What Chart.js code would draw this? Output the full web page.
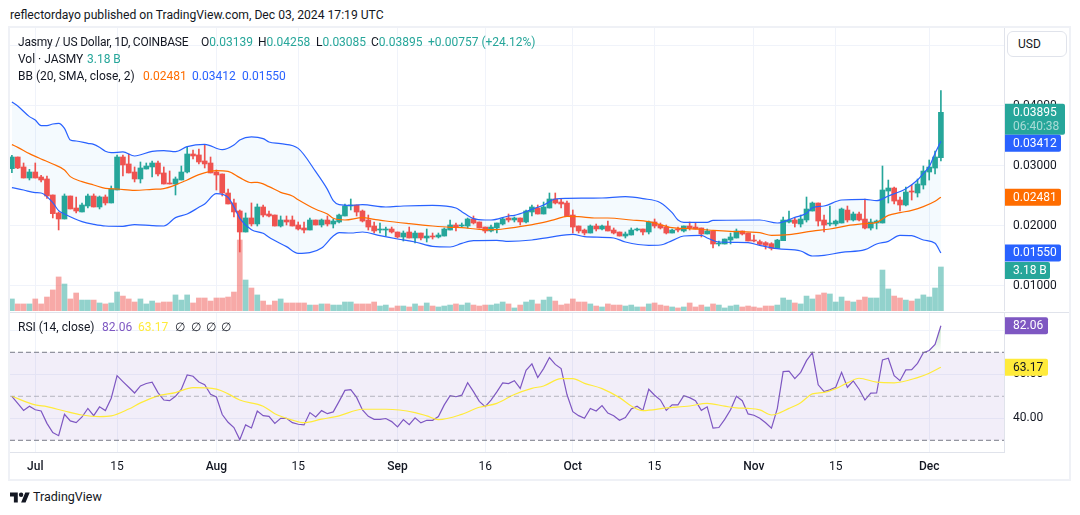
<!DOCTYPE html>
<html lang="en">
<head>
<meta charset="UTF-8">
<title>Jasmy / US Dollar, 1D</title>
<script src="https://cdn.jsdelivr.net/npm/chart.js"></script>
<style>
  body { margin: 0; background: #fff; font-family: Roboto, sans-serif; font-size: 12px; color: #131722; overflow: hidden; }
  #page { position: relative; width: 1080px; height: 515px; }
  canvas { position: absolute; }
  .txt { position: absolute; white-space: pre; line-height: 16px; }
  .up { color: #26a69a; } .orange { color: #ff6d00; } .blue { color: #2962ff; }
  .purple { color: #7e57c2; } .yellow { color: #ffeb3b; }
  #frame { position: absolute; left: 8px; top: 26px; width: 1063px; height: 455px; box-sizing: border-box; border: 2px solid #eff1f6; }
  #sep { position: absolute; left: 10px; top: 312px; width: 1059px; height: 1px; background: #e0e3eb; }
  #usd { position: absolute; left: 1007px; top: 31px; width: 60px; height: 26px; box-sizing: border-box; border: 1px solid #e0e3eb; border-radius: 6px; background: #fff; line-height: 24px; padding-left: 10px; }
</style>
</head>
<body>
<div id="page">
  <div class="txt" style="left:10px;top:7px;font-size:12.15px">reflectordayo published on TradingView.com, Dec 03, 2024 17:19 UTC</div>
  <div id="frame"></div>
  <canvas id="priceChart" width="1059" height="283" style="left:10px;top:28px"></canvas>
  <div id="sep"></div>
  <canvas id="rsiChart" width="1059" height="166" style="left:10px;top:313px"></canvas>
  <div id="usd">USD</div>

  <div class="txt" style="left:18px;top:34px;letter-spacing:-.2px">Jasmy / US Dollar, 1D, COINBASE</div>
  <div class="txt" style="left:201px;top:34px">O<span class="up">0.03139</span></div>
  <div class="txt" style="left:258px;top:34px">H<span class="up">0.04258</span></div>
  <div class="txt" style="left:316px;top:34px">L<span class="up">0.03085</span></div>
  <div class="txt" style="left:371px;top:34px">C<span class="up">0.03895</span></div>
  <div class="txt up" style="left:428px;top:34px">+0.00757 (+24.12%)</div>
  <div class="txt" style="left:18px;top:51px">Vol · JASMY</div>
  <div class="txt up" style="left:87px;top:51px">3.18 B</div>
  <div class="txt" style="left:18px;top:68px">BB (20, SMA, close, 2)</div>
  <div class="txt orange" style="left:143px;top:68px">0.02481</div>
  <div class="txt blue" style="left:192px;top:68px">0.03412</div>
  <div class="txt blue" style="left:242px;top:68px">0.01550</div>
  <div class="txt" style="left:18px;top:319px">RSI (14, close)</div>
  <div class="txt purple" style="left:102px;top:319px">82.06</div>
  <div class="txt yellow" style="left:138px;top:319px">63.17</div>
  <div class="txt" style="left:175px;top:319px">∅</div>
  <div class="txt" style="left:191px;top:319px">∅</div>
  <div class="txt" style="left:206px;top:319px">∅</div>
  <div class="txt" style="left:221px;top:319px">∅</div>

  <svg style="position:absolute;left:10px;top:491px" width="20" height="13" viewBox="0 3 36 20"><path fill="#131722" d="M14 22H7V11H0V4h14v18zM28 22h-8l7.5-18h8L28 22z"/><circle fill="#131722" cx="20" cy="8" r="4"/></svg>
  <div class="txt" style="left:33px;top:489px;font-size:12.5px">TradingView</div>
</div>

<script>
  // daily candles, Jun 27 (day 0) to Dec 03 (day 159)
  const opens = [
    .02956,.03150,.02984,.02800,.02900,.02817,.02784,.02517,.02217,.02117,
    .02500,.02300,.02234,.02334,.02500,.02317,.02484,.02384,.02600,.03150,
    .03034,.02900,.02784,.02950,.02984,.03050,.02884,.02717,.02700,.02767,
    .02900,.03200,.03184,.03084,.03050,.02900,.02867,.02550,.02384,.02250,
    .01900,.02134,.02034,.02317,.02200,.02183,.02000,.02100,.02100,.02017,
    .01967,.01933,.02100,.02017,.02100,.02033,.02067,.02167,.02333,.02350,
    .02250,.02100,.02000,.01933,.01933,.01950,.01900,.01817,.01900,.01800,
    .01883,.01800,.01833,.01817,.01833,.01933,.02017,.02000,.02000,.02117,
    .02067,.01983,.01917,.01967,.02033,.02133,.02100,.02133,.02067,.02233,
    .02300,.02200,.02300,.02450,.02400,.02383,.02183,.02000,.01933,.01883,
    .02000,.01950,.02000,.01933,.01900,.01833,.01850,.01933,.01950,.01900,
    .02067,.02017,.01983,.01883,.01950,.01917,.02000,.01983,.01967,.01867,
    .01917,.01700,.01700,.01767,.01800,.01917,.01883,.01767,.01739,.01722,
    .01705,.01627,.01755,.02066,.02100,.02033,.02100,.02250,.02383,.02100,
    .02033,.02033,.02050,.02266,.02100,.02200,.02116,.01966,.02050,.02050,
    .02583,.02633,.02433,.02350,.02583,.02550,.02683,.02900,.02966,.03139
  ]
  const highs = [
    .03178,.03150,.03050,.02945,.03050,.02845,.02834,.02517,.02234,.02534,
    .02500,.02484,.02384,.02534,.02534,.02500,.02517,.02667,.03184,.03184,
    .03200,.02984,.03067,.03050,.03084,.03084,.02984,.02917,.02817,.03000,
    .03317,.03267,.03284,.03350,.03150,.02934,.02867,.02617,.02450,.02267,
    .02217,.02384,.02367,.02350,.02250,.02183,.02167,.02167,.02167,.02067,
    .02067,.02133,.02100,.02117,.02167,.02117,.02200,.02367,.02450,.02350,
    .02267,.02183,.02067,.02050,.01983,.01983,.01900,.01917,.01983,.01917,
    .01883,.01950,.01883,.01883,.01967,.02100,.02050,.02050,.02133,.02167,
    .02067,.01983,.02017,.02050,.02133,.02200,.02150,.02133,.02267,.02350,
    .02350,.02400,.02550,.02550,.02450,.02417,.02267,.02000,.01950,.02017,
    .02033,.02017,.02083,.01967,.01900,.01900,.01967,.01967,.01950,.02083,
    .02117,.02050,.02017,.01950,.01983,.02000,.02067,.02050,.01967,.01950,
    .01917,.01750,.01783,.01883,.01950,.01917,.01883,.01850,.01766,.01739,
    .01722,.01777,.02150,.02250,.02133,.02183,.02483,.02400,.02383,.02183,
    .02333,.02100,.02300,.02333,.02233,.02233,.02450,.02116,.02100,.03000,
    .02766,.02650,.02483,.02650,.02683,.02783,.03000,.03100,.03250,.04258
  ]
  const lows = [
    .02889,.02956,.02800,.02767,.02800,.02734,.02461,.02134,.01934,.02117,
    .02284,.02217,.02234,.02300,.02317,.02284,.02350,.02384,.02600,.02834,
    .02884,.02734,.02717,.02950,.02817,.02834,.02700,.02700,.02517,.02767,
    .02884,.03117,.03034,.02967,.02884,.02600,.02500,.02367,.02150,.01567,
    .01900,.02000,.02000,.02150,.02150,.02000,.01983,.02017,.02000,.01933,
    .01883,.01933,.02017,.01983,.02000,.01967,.02050,.02167,.02267,.02167,
    .02067,.01933,.01883,.01883,.01833,.01883,.01800,.01750,.01800,.01717,
    .01767,.01733,.01783,.01800,.01833,.01933,.01917,.01983,.01967,.02033,
    .01967,.01883,.01900,.01883,.02017,.02067,.02067,.02017,.02050,.02167,
    .02200,.02200,.02300,.02367,.02300,.02156,.01883,.01883,.01850,.01883,
    .01917,.01933,.01917,.01867,.01833,.01800,.01850,.01917,.01850,.01867,
    .01967,.01950,.01867,.01883,.01900,.01900,.01933,.01950,.01817,.01867,
    .01633,.01667,.01700,.01700,.01800,.01850,.01750,.01733,.01672,.01616,
    .01600,.01627,.01755,.02050,.01983,.01983,.02066,.02250,.02000,.01900,
    .02000,.02000,.02050,.02066,.02083,.02083,.01950,.01933,.01950,.02050,
    .02383,.02366,.02250,.02333,.02433,.02483,.02616,.02766,.02866,.03085
  ]
  const closes = [
    .03150,.02967,.02800,.02900,.02800,.02767,.02500,.02206,.02117,.02500,
    .02284,.02250,.02350,.02500,.02317,.02484,.02384,.02617,.03150,.03017,
    .02884,.02784,.02967,.03000,.03050,.02867,.02700,.02700,.02784,.02900,
    .03200,.03167,.03067,.03034,.02884,.02850,.02550,.02367,.02234,.01900,
    .02134,.02034,.02317,.02183,.02167,.02000,.02100,.02067,.02000,.01950,
    .01933,.02100,.02017,.02100,.02033,.02083,.02183,.02333,.02350,.02233,
    .02083,.01983,.01917,.01950,.01950,.01900,.01817,.01883,.01800,.01883,
    .01800,.01833,.01817,.01850,.01950,.02017,.01983,.02017,.02117,.02050,
    .01967,.01917,.01983,.02050,.02117,.02100,.02133,.02067,.02250,.02317,
    .02200,.02317,.02450,.02383,.02367,.02156,.01983,.01917,.01883,.02000,
    .01950,.02000,.01917,.01883,.01833,.01867,.01933,.01950,.01900,.02067,
    .02000,.01967,.01883,.01933,.01933,.02000,.01967,.01950,.01867,.01917,
    .01700,.01717,.01783,.01817,.01917,.01867,.01750,.01750,.01694,.01677,
    .01627,.01766,.02100,.02100,.02044,.02116,.02283,.02383,.02083,.02016,
    .02050,.02083,.02283,.02100,.02200,.02100,.01966,.02066,.02083,.02600,
    .02633,.02416,.02350,.02566,.02566,.02700,.02916,.02983,.03150,.03895
  ]
  // volume in billions of JASMY
  const volumes = [
    .87,.51,.51,.51,.87,.51,1.01,1.52,2.46,1.95,
    .87,1.30,.79,.79,.79,.58,.51,.58,1.37,1.08,
    .87,.65,.87,.51,.72,.58,.65,.65,1.16,.79,
    1.16,.58,.94,.94,.72,.94,.94,1.01,1.37,5.13,
    2.24,1.66,1.16,.72,.43,.72,.87,.58,.58,.58,
    .58,.43,.43,.51,.51,.43,.43,.65,.65,.51,
    .51,.51,.65,.36,.43,.22,.36,.36,.29,.51,
    .36,.58,.36,.29,.36,.43,.51,.43,.58,.43,
    .36,.43,.43,.51,.65,.51,.22,.43,.65,.79,
    .51,.79,1.01,.72,.43,.51,.87,.65,.65,.51,
    .36,.29,.51,.43,.43,.36,.43,.29,.29,.51,
    .58,.43,.36,.29,.22,.29,.58,.29,.43,.29,
    .51,.43,.22,.36,.43,.29,.36,.29,.22,.36,
    .36,.43,.94,.79,.58,.51,1.08,.87,1.16,1.30,
    1.23,.65,1.01,.72,.65,.79,1.01,.94,.94,2.96,
    1.59,1.08,.94,.79,.72,.87,1.16,1.01,1.66,3.18
  ]

  // Bollinger bands, kept at the turning points of each curve
  const bbUpperDays = [0,1,3,4,5,6,7,8,9,10,11,13,14,15,16,17,19,21,24,26,28,30,33,36,38,39,41,43,
    44,46,49,52,54,55,56,58,60,64,67,72,76,77,79,81,82,85,
    86,89,91,93,95,101,105,108,111,113,114,115,119,120,128,
    131,134,136,137,139,142,146,148,150,153,155,156,157,158,159]
  const bbUpper = [.04067,.04000,.03823,.03767,.03673,.03673,.03700,.03711,.03628,.03434,.03417,.03378,.03361,.03311,.03245,.03223,.03234,.03167,.03245,.03256,.03239,.03323,.03361,.03273,.03350,.03434,.03484,.03456,
    .03400,.03372,.03294,.02906,.02611,.02422,.02356,.02344,.02356,.02317,.02333,.02344,.02300,.02239,.02122,.02100,.02100,.02167,
    .02178,.02278,.02350,.02450,.02461,.02467,.02489,.02456,.02389,.02222,.02100,.02061,.02061,.02094,.02100,
    .02050,.02144,.02211,.02305,.02333,.02433,.02444,.02422,.02500,.02622,.02766,.02877,.02989,.03211,.03412]
  const bbBasisDays = [0,1,3,5,7,9,10,12,14,16,18,21,24,26,28,30,32,35,37,39,41,
    42,44,46,48,49,52,54,55,57,60,62,64,68,72,75,77,80,83,
    84,88,91,93,95,97,100,102,106,109,113,116,120,123,128,
    130,133,137,140,143,146,148,150,152,154,156,158,159]
  const bbBasis = [.03356,.03311,.03206,.03117,.03034,.02934,.02823,.02739,.02684,.02628,.02617,.02595,.02611,.02623,.02684,.02767,.02856,.02923,.02911,.02806,.02723,
    .02728,.02656,.02561,.02500,.02439,.02278,.02200,.02128,.02100,.02139,.02111,.02083,.02039,.02000,.01978,.01972,.01944,.01939,
    .01950,.02006,.02061,.02111,.02161,.02156,.02133,.02133,.02100,.02072,.01972,.01956,.01928,.01911,.01889,
    .01844,.01855,.01916,.01950,.02005,.02039,.02061,.02177,.02222,.02261,.02322,.02411,.02481]
  const bbLowerDays = [0,2,4,5,7,8,9,12,14,16,19,21,24,26,28,30,32,33,35,37,38,39,41,43,
    44,47,49,51,53,55,56,58,60,63,66,69,72,75,77,79,83,85,
    89,92,96,98,103,105,109,111,113,115,118,119,121,124,126,128,
    131,135,137,139,142,146,148,150,152,154,156,158,159]
  const bbLower = [.02639,.02600,.02556,.02550,.02389,.02256,.02200,.02073,.02028,.02000,.01995,.02023,.02006,.02000,.02139,.02200,.02311,.02367,.02539,.02478,.02322,.02128,.01939,.01878,
    .01811,.01656,.01544,.01556,.01633,.01833,.01889,.01883,.01900,.01839,.01783,.01733,.01661,.01650,.01711,.01756,.01761,.01744,
    .01767,.01811,.01861,.01822,.01800,.01733,.01678,.01683,.01756,.01833,.01844,.01800,.01733,.01728,.01722,.01678,
    .01622,.01583,.01500,.01511,.01561,.01605,.01700,.01744,.01844,.01839,.01766,.01711,.01550]

  const rsi = [
    50.0,46.8,43.6,45.5,43.9,43.3,37.7,33.5,32.1,41.8,
    38.8,38.0,40.6,44.5,41.2,45.2,43.5,49.1,59.4,56.7,
    54.1,51.5,54.7,55.8,56.4,51.7,48.3,48.0,50.0,53.2,
    59.7,59.1,56.5,55.3,50.9,49.7,41.7,38.2,35.8,30.3,
    37.0,35.6,43.3,41.2,40.9,37.7,40.0,40.0,38.0,37.3,
    37.0,42.6,40.6,43.5,42.1,42.9,47.7,52.7,53.0,49.5,
    43.8,40.9,39.5,39.5,39.9,38.5,36.1,39.4,37.1,40.2,
    37.9,39.1,39.1,40.8,46.1,50.3,49.8,50.5,56.2,52.1,
    47.7,45.3,48.3,52.0,56.1,55.8,57.1,53.6,61.8,64.7,
    58.5,62.6,67.6,64.5,62.6,50.8,43.0,41.2,40.0,44.5,
    43.3,45.8,42.4,41.2,39.1,40.3,44.2,45.5,43.6,53.2,
    50.5,48.3,43.6,46.1,46.1,50.3,49.4,48.0,43.6,45.2,
    35.5,35.8,39.5,43.9,50.0,48.0,42.0,41.4,40.0,38.0,
    35.5,44.4,61.2,61.4,58.0,60.9,66.2,69.8,55.2,52.1,
    52.9,54.1,60.9,54.1,57.0,53.2,48.3,51.4,51.5,66.5,
    67.3,59.4,57.1,62.0,62.1,65.0,69.8,70.8,73.6,82.06
  ]
  const rsiMaDays = [0,4,6,9,12,15,17,20,22,25,28,31,35,37,39,43,45,48,50,53,56,60,
    64,69,71,73,77,80,83,86,89,91,94,96,98,101,104,106,108,112,116,119,
    122,124,126,128,130,133,135,137,139,141,143,145,148,151,155,157,159]
  const rsiMa = [50.0,46.1,45.3,43.3,41.5,40.8,41.1,44.2,47.0,50.2,51.7,53.9,53.3,51.1,48.3,45.5,42.1,39.2,38.0,39.6,41.1,44.1,
    44.1,42.6,41.1,39.4,41.8,45.0,46.8,50.8,53.6,54.7,58.0,58.0,55.9,53.5,49.4,45.6,43.5,44.7,45.6,46.8,
    45.5,44.7,44.5,43.8,41.5,44.5,47.1,51.1,51.8,53.5,56.1,58.2,56.4,56.1,58.5,60.5,63.17]

  const priceTicks = [.01,.02,.03,.04,.05]
  const rsiTicks = [40,60,80]
  const rsiLevels = [70,50,30]
  const tickDays = [4,18,35,49,66,81,96,110,127,141,157]
  const tickLabels = ['Jul','15','Aug','15','Sep','16','Oct','15','Nov','15','Dec']

  const UP = '#26a69a', DOWN = '#ef5350'
  const GRID = '#f0f3fa', AXIS = '#e0e3eb', TEXT = '#131722'
  const FONT = 'Roboto, sans-serif'
  const dirColor = (i, up, down) => closes[i] >= opens[i] ? up : down
  const days = opens.map((_, i) => i)
  const pts = (xs, ys) => xs.map((x, i) => ({x: x, y: ys[i]}))

  const xAxis = {
    type: 'linear', min: -0.325, max: 169.8, offset: false,
    grid: {color: GRID, offset: false, drawTicks: false},
    border: {display: false},
    afterBuildTicks: s => { s.ticks = tickDays.map(v => ({value: v})) },
    ticks: {display: false}
  }
  // the pane runs edge to edge, so the tick labels must not pad the scale
  const yAxisBase = (values) => ({
    position: 'right',
    grid: {color: GRID, drawTicks: false},
    border: {color: AXIS},
    afterBuildTicks: s => { s.ticks = values.map(v => ({value: v})) },
    afterFit: s => {
      s.width = 65
      s.paddingTop = s.paddingBottom = 0
      s._margins.top = s._margins.bottom = 0
    }
  })

  // coloured value tags sitting on the right axis
  const tagPlugin = {
    id: 'tags',
    afterDraw(chart, args, opts) {
      const c = chart.ctx
      opts.items.forEach(t => {
        const y = chart.scales[t.axis].getPixelForValue(t.value) + (t.dy || 0)
        const x = chart.chartArea.right + 1
        const h = t.lines.length > 1 ? 31 : 17
        const top = t.lines.length > 1 ? y - 8.5 : y - h / 2
        c.save()
        c.fillStyle = t.bg
        c.beginPath()
        c.roundRect(x, top, t.w, h, [0, 2, 2, 0])
        c.fill()
        c.font = '12px ' + FONT
        c.textBaseline = 'middle'
        c.fillStyle = t.color
        c.fillText(t.lines[0], x + 8, top + 9)
        if (t.lines[1]) {
          c.globalAlpha = 0.6
          c.fillText(t.lines[1], x + 8, top + 23)
        }
        c.restore()
      })
    }
  }

  new Chart(document.getElementById('priceChart'), {
    type: 'bar',
    plugins: [tagPlugin],
    data: {
      datasets: [
        {label: 'Volume', yAxisID: 'yVol', order: 5, barThickness: 5,
         data: pts(days, volumes),
         backgroundColor: days.map(i => dirColor(i, 'rgba(38,166,154,.5)', 'rgba(239,83,80,.5)'))},
        {label: 'Wick', yAxisID: 'y', order: 4, barThickness: 1,
         data: days.map(i => ({x: i, y: [lows[i], highs[i]]})),
         backgroundColor: days.map(i => dirColor(i, UP, DOWN))},
        {label: 'Body', yAxisID: 'y', order: 3, barThickness: 5, minBarLength: 1,
         data: days.map(i => ({x: i, y: [opens[i], closes[i]]})),
         backgroundColor: days.map(i => dirColor(i, UP, DOWN))},
        {type: 'line', label: 'BB upper', yAxisID: 'y', order: 2, data: pts(bbUpperDays, bbUpper),
         borderColor: '#2962ff', borderWidth: 1.2, pointRadius: 0, cubicInterpolationMode: 'monotone'},
        {type: 'line', label: 'BB lower', yAxisID: 'y', order: 2, data: pts(bbLowerDays, bbLower),
         borderColor: '#2962ff', borderWidth: 1.2, pointRadius: 0, cubicInterpolationMode: 'monotone',
         fill: {target: 3}, backgroundColor: 'rgba(33,150,243,.05)'},
        {type: 'line', label: 'BB basis', yAxisID: 'y', order: 1, data: pts(bbBasisDays, bbBasis),
         borderColor: '#ff6d00', borderWidth: 1.2, pointRadius: 0, cubicInterpolationMode: 'monotone'}
      ]
    },
    options: {
      responsive: false,
      animation: false,
      layout: {padding: 0, autoPadding: false},
      datasets: {bar: {grouped: false, borderWidth: 0, borderSkipped: false}},
      plugins: {
        legend: {display: false},
        tooltip: {enabled: false},
        filler: {drawTime: 'beforeDatasetsDraw'},
        tags: {items: [
          {axis: 'y', value: closes[159], w: 60, bg: UP, color: '#fff', lines: ['0.03895', '06:40:38']},
          {axis: 'y', value: 0.03412, dy: 2, w: 56, bg: '#2962ff', color: '#fff', lines: ['0.03412']},
          {axis: 'y', value: 0.02481, w: 56, bg: '#ff6d00', color: '#fff', lines: ['0.02481']},
          {axis: 'y', value: 0.01550, w: 56, bg: '#2962ff', color: '#fff', lines: ['0.01550']},
          {axis: 'yVol', value: volumes[159], dy: 3.5, w: 45, bg: UP, color: '#fff', lines: ['3.18 B']}
        ]}
      },
      scales: {
        x: xAxis,
        y: Object.assign(yAxisBase(priceTicks), {
          min: 0.005833, max: 0.053,
          ticks: {padding: 9, color: TEXT, font: {family: FONT, size: 12}, callback: v => v.toFixed(5)}
        }),
        yVol: {display: false, min: 0, max: 20.45}
      }
    }
  })

  const rsiCanvas = document.getElementById('rsiChart')
  // green wash where the RSI runs above the 70 level
  const overbought = rsiCanvas.getContext('2d').createLinearGradient(0, 13, 0, 39)
  overbought.addColorStop(0, 'rgba(76,175,80,.35)')
  overbought.addColorStop(1, 'rgba(76,175,80,0)')
  const levelLine = (v) => [{x: xAxis.min, y: v}, {x: xAxis.max, y: v}]

  new Chart(rsiCanvas, {
    type: 'line',
    plugins: [tagPlugin],
    data: {
      datasets: [
        {label: '70', data: levelLine(rsiLevels[0]), borderColor: '#787b86', borderWidth: 1, borderDash: [5, 3], pointRadius: 0},
        {label: '50', data: levelLine(rsiLevels[1]), borderColor: 'rgba(120,123,134,.5)', borderWidth: 1, borderDash: [5, 3], pointRadius: 0},
        {label: '30', data: levelLine(rsiLevels[2]), borderColor: '#787b86', borderWidth: 1, borderDash: [5, 3], pointRadius: 0,
         fill: {target: 0}, backgroundColor: 'rgba(126,87,194,.1)'},
        {label: 'RSI MA', data: pts(rsiMaDays, rsiMa), borderColor: '#ffeb3b', borderWidth: 1.2, pointRadius: 0, cubicInterpolationMode: 'monotone'},
        {label: 'RSI', data: pts(days, rsi), borderColor: '#7e57c2', borderWidth: 1.2, pointRadius: 0,
         fill: {target: {value: 70}, above: overbought, below: 'transparent'}}
      ]
    },
    options: {
      responsive: false,
      animation: false,
      layout: {padding: 0, autoPadding: false},
      plugins: {
        legend: {display: false},
        tooltip: {enabled: false},
        filler: {drawTime: 'beforeDatasetsDraw'},
        tags: {items: [
          {axis: 'y', value: rsi[159], w: 43, bg: '#7e57c2', color: '#fff', lines: ['82.06']},
          {axis: 'y', value: rsiMa[rsiMa.length - 1], w: 43, bg: '#ffeb3b', color: TEXT, lines: ['63.17']}
        ]}
      },
      scales: {
        x: Object.assign({}, xAxis, {
          border: {display: true, color: AXIS},
          afterFit: s => { s.height = 27 },
          ticks: {
            autoSkip: false, maxRotation: 0, padding: 8, color: TEXT,
            font: c => {
              const isMonth = c.tick && isNaN(tickLabels[tickDays.indexOf(c.tick.value)])
              return {family: FONT, size: 12, weight: isMonth ? '500' : '400'}
            },
            callback: v => tickLabels[tickDays.indexOf(v)]
          }
        }),
        y: Object.assign(yAxisBase(rsiTicks), {
          min: 24.68, max: 87.86,
          ticks: {padding: 9, color: TEXT, font: {family: FONT, size: 12}, callback: v => v.toFixed(2)}
        })
      }
    }
  })
</script>
</body>
</html>
